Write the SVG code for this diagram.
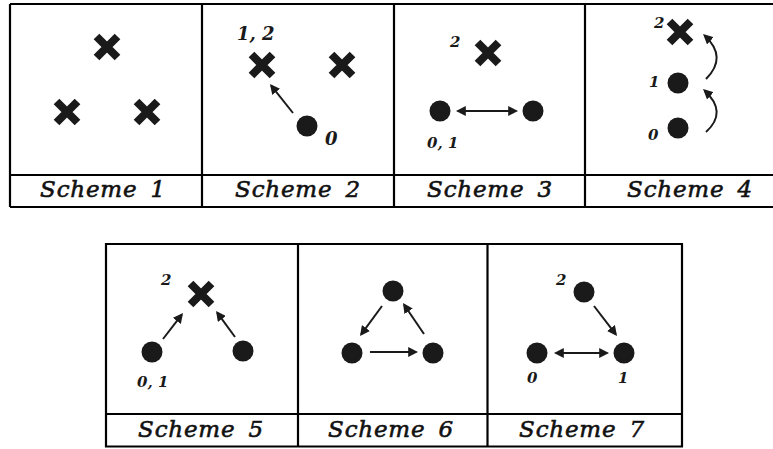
<svg xmlns="http://www.w3.org/2000/svg" xmlns:xlink="http://www.w3.org/1999/xlink" width="773" height="449" viewBox="0 0 773 449">
<style>
.frame{fill:none;stroke:#000;stroke-width:2.2}
.title{font-family:"DejaVu Serif","Liberation Serif",serif;font-style:italic;font-weight:normal;font-size:23px;fill:#111;stroke:#111;stroke-width:0.6;text-anchor:middle;letter-spacing:0.8px;word-spacing:5px}
.lab{font-family:"DejaVu Serif","Liberation Serif",serif;font-style:italic;font-weight:bold;font-size:15px;fill:#1a1a1a}
.lab2{font-family:"DejaVu Serif","Liberation Serif",serif;font-style:italic;font-weight:bold;font-size:18px;fill:#1a1a1a}
.dot{fill:#1a1a1a}
.arr{fill:none;stroke:#1a1a1a;stroke-width:2;marker-end:url(#ah)}
.darr{fill:none;stroke:#1a1a1a;stroke-width:2;marker-end:url(#ah);marker-start:url(#ah)}
</style>
<defs>
<marker id="ah" viewBox="0 0 10 10" refX="8" refY="5" markerWidth="10" markerHeight="10" markerUnits="userSpaceOnUse" orient="auto-start-reverse">
<path d="M0,0 L10,5 L0,10 z" fill="#1a1a1a"/>
</marker>
<g id="cross"><path d="M-10.5,-10.5 L10.5,10.5 M-10.5,10.5 L10.5,-10.5" stroke="#1a1a1a" stroke-width="8" fill="none"/></g>
</defs>

<g id="tables">
<path class="frame" d="M10,4 H773 M10,4 V207 M10,207 H773 M10,175 H773 M202,4 V207 M394,4 V207 M585,4 V207"/>
<path class="frame" d="M106,244 H682 V446.5 H106 Z M106,414 H682 M298,244 V446.5 M487.5,244 V446.5"/>
</g>

<g id="titles">
<text class="title" x="103" y="197">Scheme 1</text>
<text class="title" x="298" y="197">Scheme 2</text>
<text class="title" x="490" y="197">Scheme 3</text>
<text class="title" x="690" y="197">Scheme 4</text>
<text class="title" x="201" y="437">Scheme 5</text>
<text class="title" x="391" y="437">Scheme 6</text>
<text class="title" x="582" y="437">Scheme 7</text>
</g>

<g id="scheme1">
<g id="s1-x1"><use xlink:href="#cross" x="107" y="47"/></g>
<g id="s1-x2"><use xlink:href="#cross" x="67" y="112"/></g>
<g id="s1-x3"><use xlink:href="#cross" x="147" y="112"/></g>
</g>

<g id="scheme2">
<g id="s2-x1"><use xlink:href="#cross" x="262" y="65"/><text class="lab2" x="237" y="40">1, 2</text></g>
<g id="s2-x2"><use xlink:href="#cross" x="342" y="65"/></g>
<g id="s2-d0"><circle class="dot" cx="307" cy="126" r="10.5"/><text class="lab2" x="325" y="145">0</text></g>
</g>

<g id="scheme3">
<g id="s3-x2"><use xlink:href="#cross" x="488" y="53"/><text class="lab" x="450" y="47">2</text></g>
<g id="s3-d0"><circle class="dot" cx="440" cy="111" r="10.5"/><text class="lab" x="427" y="148">0, 1</text></g>
<g id="s3-d1"><circle class="dot" cx="533" cy="111" r="10.5"/></g>
</g>

<g id="scheme4">
<g id="s4-x2"><use xlink:href="#cross" x="680" y="32"/><text class="lab" x="654" y="28">2</text></g>
<g id="s4-d1"><circle class="dot" cx="678" cy="83" r="10.5"/><text class="lab" x="649" y="87">1</text></g>
<g id="s4-d0"><circle class="dot" cx="678" cy="128" r="10.5"/><text class="lab" x="648" y="140">0</text></g>
</g>

<g id="scheme5">
<g id="s5-x2"><use xlink:href="#cross" x="201" y="294"/><text class="lab" x="161" y="285">2</text></g>
<g id="s5-d0"><circle class="dot" cx="152" cy="352" r="10.5"/><text class="lab" x="137" y="387">0, 1</text></g>
<g id="s5-d1"><circle class="dot" cx="243" cy="351" r="10.5"/></g>
</g>

<g id="scheme6">
<g id="s6-top"><circle class="dot" cx="393" cy="291" r="10.5"/></g>
<g id="s6-left"><circle class="dot" cx="352" cy="353" r="10.5"/></g>
<g id="s6-right"><circle class="dot" cx="433" cy="353" r="10.5"/></g>
</g>

<g id="scheme7">
<g id="s7-d2"><circle class="dot" cx="584" cy="292" r="10.5"/><text class="lab" x="556" y="285">2</text></g>
<g id="s7-d0"><circle class="dot" cx="537" cy="353" r="10.5"/><text class="lab" x="527" y="383">0</text></g>
<g id="s7-d1"><circle class="dot" cx="624" cy="353" r="10.5"/><text class="lab" x="618" y="383">1</text></g>
</g>

<g id="connectors">
<path class="arr" d="M293,113 L271.2,85.6"/>
<path class="darr" d="M457.8,111 L516.2,111"/>
<path class="arr" d="M706,132 Q728,112 704.5,90.4"/>
<path class="arr" d="M706,79 Q728,57 704.5,35.4"/>
<path class="arr" d="M163,339 L181.8,314.6"/>
<path class="arr" d="M235,337 L217.2,312.6"/>
<path class="arr" d="M382,306 L361.2,334.4"/>
<path class="arr" d="M424,334 L404.1,304.7"/>
<path class="arr" d="M370,352 L416.2,352"/>
<path class="arr" d="M594,306 L615.8,334.4"/>
<path class="darr" d="M555.8,353 L607.2,353"/>
</g>
</svg>
